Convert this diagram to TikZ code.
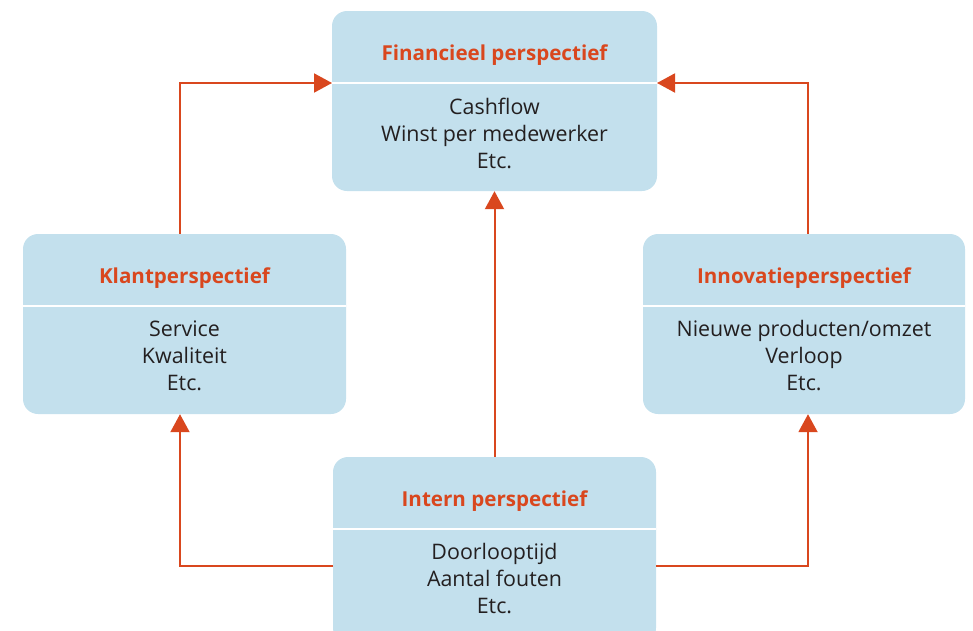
\documentclass[tikz,border=0pt]{standalone}
\usepackage{fontspec}
\setmainfont{Open Sans}
\usetikzlibrary{arrows.meta}
\definecolor{boxblue}{HTML}{C3E0ED}
\definecolor{accent}{HTML}{D9471E}
\definecolor{bodytext}{HTML}{231F20}
\begin{document}
\begin{tikzpicture}[x=1pt,y=-1pt,
  panel/.style={fill=boxblue, draw=none, rounded corners=15pt, inner sep=0pt},
  headtext/.style={text=accent, font=\fontsize{20.6}{24}\selectfont\bfseries, inner sep=0pt},
  bodytxt/.style={text=bodytext, font=\fontsize{21.4}{27}\selectfont, align=center, inner sep=0pt},
  divider/.style={draw=white, line width=2.5pt},
  conn/.style={draw=accent, line width=2pt, -{Triangle[length=18pt,width=19pt]}}]
  \useasboundingbox (0,0) rectangle (973,630);
  \clip (0,0) rectangle (973,630);

  % panels
  \node[panel, minimum width=325pt, minimum height=180pt] (fin) at (494.5,101) {};
  \node[panel, minimum width=323pt, minimum height=180pt] (klant) at (184.5,324) {};
  \node[panel, minimum width=322pt, minimum height=180pt] (innov) at (804,324) {};
  \node[panel, minimum width=323pt, minimum height=186pt] (intern) at (494.5,550) {};

  % dividers under the headings
  \draw[divider] (fin.west |- 0,83) -- (fin.east |- 0,83);
  \draw[divider] (klant.west |- 0,306) -- (klant.east |- 0,306);
  \draw[divider] (innov.west |- 0,306) -- (innov.east |- 0,306);
  \draw[divider] (intern.west |- 0,529) -- (intern.east |- 0,529);

  % headings
  \node[headtext] (finH) at (494.5,55) {Financieel perspectief};
  \node[headtext] (klantH) at (184.5,278) {Klantperspectief};
  \node[headtext] (innovH) at (804,278) {Innovatieperspectief};
  \node[headtext] (internH) at (494.5,501) {Intern perspectief};

  % contents
  \node[bodytxt] (finB) at (494.5,133) {Cashflow\\Winst per medewerker\\Etc.};
  \node[bodytxt] (klantB) at (184.5,356) {Service\\Kwaliteit\\Etc.};
  \node[bodytxt] (innovB) at (804,356) {Nieuwe producten/omzet\\Verloop\\Etc.};
  \node[bodytxt] (internB) at (494.5,579) {Doorlooptijd\\Aantal fouten\\Etc.};

  % connector anchor points
  \coordinate (lx) at (180,0);
  \coordinate (rx) at (808,0);
  \coordinate (finL) at (332,83);
  \coordinate (finR) at (657,83);
  \coordinate (intL) at (333,566);
  \coordinate (intR) at (656,566);

  % connectors
  \draw[conn] (lx |- klant.north) |- (finL);
  \draw[conn] (rx |- innov.north) |- (finR);
  \draw[conn] (intern.north) -- (fin.south);
  \draw[conn] (intL) -| (lx |- klant.south);
  \draw[conn] (intR) -| (rx |- innov.south);
\end{tikzpicture}
\end{document}
